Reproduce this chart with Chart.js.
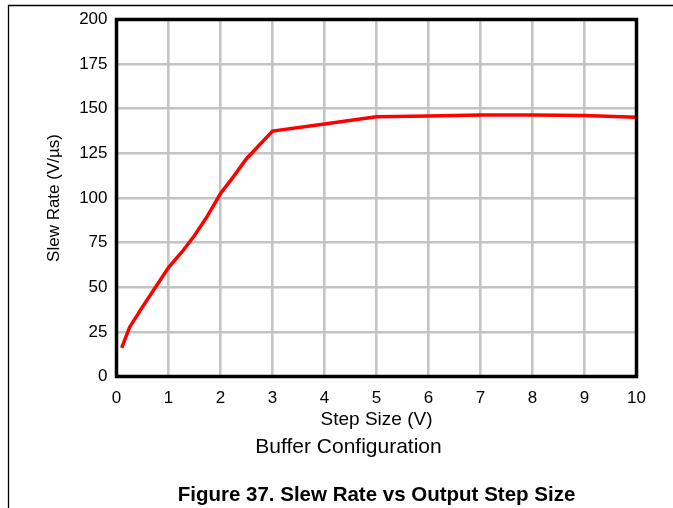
<!DOCTYPE html>
<html>
<head>
<meta charset="utf-8">
<title>Slew Rate vs Output Step Size</title>
<script src="https://cdn.jsdelivr.net/npm/chart.js@4.4.1/dist/chart.umd.min.js"></script>
<style>
  html, body { margin: 0; padding: 0; background: #fff; }
  #wrap { width: 673px; height: 508px; }
</style>
</head>
<body>
<div id="wrap"><canvas id="slewChart" width="673" height="508"></canvas></div>
<script>
// values
var stepSize = [0.1, 0.25, 0.5, 0.75, 1, 1.25, 1.5, 1.75, 2, 2.25, 2.5, 3, 4, 5, 6, 7, 8, 9, 10];
var slewRate = [16, 27.5, 39, 50, 61, 69.5, 79, 90, 102.5, 112, 122, 137.5, 141.5, 145.5, 146, 146.5, 146.5, 146.2, 145.2];
var xTicks = [0, 1, 2, 3, 4, 5, 6, 7, 8, 9, 10];
var yTicks = [0, 25, 50, 75, 100, 125, 150, 175, 200];

var points = stepSize.map(function (x, i) { return { x: x, y: slewRate[i] }; });
var fontFamily = '"Liberation Sans", Arial, sans-serif';

// outer figure frame + black plot box drawn over the data
var framePlugin = {
  id: 'frame',
  beforeDraw: function (chart) {
    var c = chart.ctx;
    c.save();
    c.strokeStyle = '#000';
    c.lineWidth = 1.3;
    c.beginPath();
    c.moveTo(8.5, 508);
    c.lineTo(8.5, 5.5);
    c.lineTo(673, 5.5);
    c.stroke();
    c.restore();
  },
  afterDatasetsDraw: function (chart) {
    var a = chart.chartArea;
    var c = chart.ctx;
    c.save();
    c.strokeStyle = '#000';
    c.lineWidth = 3.5;
    c.strokeRect(a.left, a.top, a.right - a.left, a.bottom - a.top);
    c.restore();
  }
};

var ctx = document.getElementById('slewChart').getContext('2d');
var slewChart = new Chart(ctx, {
  type: 'line',
  data: {
    datasets: [{
      label: 'Slew Rate',
      data: points,
      borderColor: '#ff0000',
      borderWidth: 3.5,
      pointRadius: 0,
      tension: 0,
      fill: false
    }]
  },
  options: {
    responsive: false,
    animation: false,
    layout: {
      padding: { left: 60.5, right: 36.5, top: 19.5, bottom: 0.5 }
    },
    plugins: {
      legend: { display: false },
      tooltip: { enabled: false },
      subtitle: {
        display: true,
        position: 'bottom',
        text: 'Buffer Configuration',
        color: '#000',
        font: { family: fontFamily, size: 21, weight: 'normal' },
        padding: { top: 2.9, bottom: 0 }
      },
      title: {
        display: true,
        position: 'bottom',
        fullSize: false,
        text: 'Figure 37. Slew Rate vs Output Step Size',
        color: '#000',
        font: { family: fontFamily, size: 20.5, weight: 'bold' },
        padding: { top: 23.3, bottom: 0 }
      }
    },
    scales: {
      x: {
        type: 'linear',
        min: 0,
        max: 10,
        afterFit: function (scale) { scale.height = 55; },
        afterBuildTicks: function (scale) {
          scale.ticks = xTicks.map(function (v) { return { value: v }; });
        },
        ticks: {
          color: '#000',
          padding: 12,
          maxRotation: 0,
          font: { family: fontFamily, size: 17 }
        },
        grid: { color: '#c4c4c4', lineWidth: 2.6, drawTicks: false },
        border: { display: false },
        title: {
          display: true,
          text: 'Step Size (V)',
          color: '#000',
          font: { family: fontFamily, size: 19 },
          padding: { top: 0, bottom: 0.6 }
        }
      },
      y: {
        min: 0,
        max: 200,
        afterFit: function (scale) { scale.width = 56; },
        afterBuildTicks: function (scale) {
          scale.ticks = yTicks.map(function (v) { return { value: v }; });
        },
        ticks: {
          color: '#000',
          padding: 9,
          font: { family: fontFamily, size: 17 }
        },
        grid: { color: '#c4c4c4', lineWidth: 2.6, drawTicks: false },
        border: { display: false },
        title: {
          display: true,
          text: 'Slew Rate (V/\u00b5s)',
          color: '#000',
          font: { family: fontFamily, size: 17 },
          padding: { top: -16.7, bottom: 0 }
        }
      }
    }
  },
  plugins: [framePlugin]
});
</script>
</body>
</html>
